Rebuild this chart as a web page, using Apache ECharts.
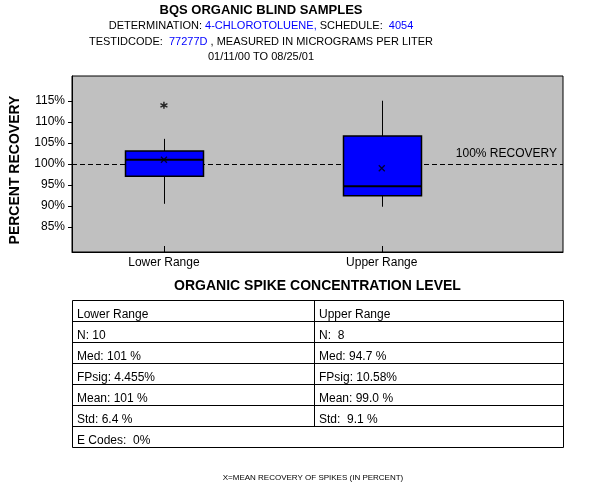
<!DOCTYPE html>
<html><head><meta charset="utf-8">
<script src="https://cdn.jsdelivr.net/npm/echarts@6/dist/echarts.min.js"></script>
<style>html,body{margin:0;padding:0;background:#fff}#c{width:600px;height:500px}</style>
</head><body><div id="c"></div>
<script>
// ---- data ----
const categories = ['Lower Range', 'Upper Range'];
const categoryPos = [1, 2];
// [min whisker, Q1, median, Q3, max whisker]
const lowerBox = [90.5, 97.1, 101.0, 103.1, 106.0];
const upperBox = [89.8, 92.4, 94.7, 106.7, 115.1];
const means = [101.0, 99.0];
const outlierPos = [1];
const outlierVals = [114.0];
const yTicks = [85, 90, 95, 100, 105, 110, 115];
const refValue = 100;
const lowerStats = ['Lower Range', 'N: 10', 'Med: 101 %', 'FPsig: 4.455%', 'Mean: 101 %', 'Std: 6.4 %'];
const upperStats = ['Upper Range', 'N:  8', 'Med: 94.7 %', 'FPsig: 10.58%', 'Mean: 99.0 %', 'Std:  9.1 %'];
const eCodes = 'E Codes:  0%';

const FONT = 'Arial, "Liberation Sans", sans-serif';
const chart = echarts.init(document.getElementById('c'), null, {renderer: 'canvas'});

// ---- table graphics ----
const T = {left: 72, right: 563, top: 300, rowH: 21, split: 314};
const graphics = [];
const nRows = lowerStats.length + 1;
graphics.push({type: 'rect', silent: true, shape: {x: T.left + 0.5, y: T.top + 0.5, width: T.right - T.left, height: T.rowH * nRows},
  style: {fill: '#fff', stroke: '#000', lineWidth: 1}});
for (let i = 1; i < nRows; i++) {
  const y = T.top + T.rowH * i + 0.5;
  graphics.push({type: 'line', silent: true, shape: {x1: T.left, y1: y, x2: T.right, y2: y}, style: {stroke: '#000', lineWidth: 1}});
}
graphics.push({type: 'line', silent: true, shape: {x1: T.split + 0.5, y1: T.top, x2: T.split + 0.5, y2: T.top + T.rowH * (nRows - 1)}, style: {stroke: '#000', lineWidth: 1}});
lowerStats.forEach((s, i) => {
  graphics.push({type: 'text', silent: true, x: T.left + 5, y: T.top + T.rowH * i + 14.5,
    style: {text: s, font: '12px ' + FONT, fill: '#000', verticalAlign: 'middle'}});
  graphics.push({type: 'text', silent: true, x: T.split + 5, y: T.top + T.rowH * i + 14.5,
    style: {text: upperStats[i], font: '12px ' + FONT, fill: '#000', verticalAlign: 'middle'}});
});
graphics.push({type: 'text', silent: true, x: T.left + 5, y: T.top + T.rowH * (nRows - 1) + 14.5,
  style: {text: eCodes, font: '12px ' + FONT, fill: '#000', verticalAlign: 'middle'}});

// ---- header ----
const rich = {k: {fontSize: 11, fontFamily: FONT, fill: '#000', color: '#000'}, b: {fontSize: 11, fontFamily: FONT, fill: '#0000ff', color: '#0000ff'}};
graphics.push({type: 'text', silent: true, x: 261, y: 10, style: {text: 'BQS ORGANIC BLIND SAMPLES', font: 'bold 13px ' + FONT, fill: '#000', align: 'center', verticalAlign: 'middle'}});
graphics.push({type: 'text', silent: true, x: 261, y: 26, style: {text: '{k|DETERMINATION: }{b|4-CHLOROTOLUENE,}{k| SCHEDULE:  }{b|4054}', rich: rich, align: 'center', verticalAlign: 'middle'}});
graphics.push({type: 'text', silent: true, x: 261, y: 42, style: {text: '{k|TESTIDCODE:  }{b|77277D}{k| , MEASURED IN MICROGRAMS PER LITER}', rich: rich, align: 'center', verticalAlign: 'middle'}});
graphics.push({type: 'text', silent: true, x: 261, y: 57, style: {text: '01/11/00 TO 08/25/01', font: '11px ' + FONT, fill: '#000', align: 'center', verticalAlign: 'middle'}});
graphics.push({type: 'text', silent: true, x: 313, y: 478, style: {text: 'X=MEAN RECOVERY OF SPIKES (IN PERCENT)', font: '8px ' + FONT, fill: '#000', align: 'center', verticalAlign: 'middle'}});

const boxData = [[categoryPos[0]].concat(lowerBox), [categoryPos[1]].concat(upperBox)];
const meanData = categoryPos.map((p, i) => [p, means[i]]);
const outlierData = outlierPos.map((p, i) => [p, outlierVals[i]]);

chart.setOption({
  animation: false,
  backgroundColor: '#fff',
  textStyle: {fontFamily: FONT},
  grid: {left: 72, right: 37, top: 76, bottom: 248, show: true, backgroundColor: '#c0c0c0', borderColor: '#000', borderWidth: 1},
  xAxis: {
    type: 'value', min: 0.578, max: 2.832,
    name: 'ORGANIC SPIKE CONCENTRATION LEVEL', nameLocation: 'middle', nameGap: 27,
    nameTextStyle: {fontSize: 14, fontWeight: 'bold', color: '#000', fontFamily: FONT},
    axisLine: {show: true, lineStyle: {color: '#000', width: 1}},
    axisTick: {show: true, inside: true, length: 6, customValues: categoryPos, lineStyle: {color: '#000'}},
    axisLabel: {customValues: categoryPos, margin: 5, fontSize: 12, color: '#000', fontFamily: FONT,
      formatter: v => categories[categoryPos.indexOf(Math.round(v))] || ''},
    splitLine: {show: false}
  },
  yAxis: {
    type: 'value', min: 79, max: 121,
    name: 'PERCENT RECOVERY', nameLocation: 'middle', nameGap: 50,
    nameTextStyle: {fontSize: 14, fontWeight: 'bold', color: '#000', fontFamily: FONT, padding: [0, 12, 0, 0]},
    axisLine: {show: true, lineStyle: {color: '#000', width: 1}},
    axisTick: {show: true, inside: false, length: 4, customValues: yTicks, lineStyle: {color: '#000'}},
    axisLabel: {customValues: yTicks, margin: 7, fontSize: 12, color: '#000', fontFamily: FONT, formatter: v => v + '%'},
    splitLine: {show: false}
  },
  graphic: graphics,
  series: [
    {
      type: 'line', data: [], z: 1, silent: true,
      markLine: {
        silent: true, symbol: 'none', animation: false, z: 1,
        lineStyle: {color: '#000', type: [5, 3], width: 1},
        label: {show: true, position: 'insideEndTop', formatter: '100% RECOVERY', color: '#000', fontSize: 12, fontFamily: FONT, distance: [6, 4]},
        data: [{yAxis: refValue}]
      }
    },
    {
      type: 'custom', z: 3, silent: true,
      encode: {x: 0, y: [1, 2, 3, 4, 5]},
      data: boxData,
      renderItem: function (params, api) {
        const x = api.value(0);
        const pMin = api.coord([x, api.value(1)]);
        const pQ1 = api.coord([x, api.value(2)]);
        const pMed = api.coord([x, api.value(3)]);
        const pQ3 = api.coord([x, api.value(4)]);
        const pMax = api.coord([x, api.value(5)]);
        const half = 39;
        const cx = Math.round(pMin[0]) + 0.5;
        return {type: 'group', children: [
          {type: 'line', shape: {x1: cx, y1: pMax[1], x2: cx, y2: pQ3[1]}, style: {stroke: '#000', lineWidth: 1}},
          {type: 'line', shape: {x1: cx, y1: pQ1[1], x2: cx, y2: pMin[1]}, style: {stroke: '#000', lineWidth: 1}},
          {type: 'rect', shape: {x: cx - half, y: pQ3[1], width: 2 * half, height: pQ1[1] - pQ3[1]}, style: {fill: '#0000ff', stroke: '#000', lineWidth: 1.5}},
          {type: 'line', shape: {x1: cx - half, y1: pMed[1], x2: cx + half, y2: pMed[1]}, style: {stroke: '#000', lineWidth: 2}}
        ]};
      }
    },
    {
      type: 'scatter', z: 5, silent: true, data: meanData,
      symbol: 'path://M0,0L10,10M10,0L0,10', symbolSize: 6,
      itemStyle: {color: '#000', borderColor: '#000', borderWidth: 1.3}
    },
    {
      type: 'scatter', z: 5, silent: true, data: outlierData,
      symbol: 'path://M5,0L5,10M0.7,2.5L9.3,7.5M9.3,2.5L0.7,7.5', symbolSize: 7,
      itemStyle: {color: '#000', borderColor: '#000', borderWidth: 1.5}
    }
  ]
});
</script>
</body></html>
